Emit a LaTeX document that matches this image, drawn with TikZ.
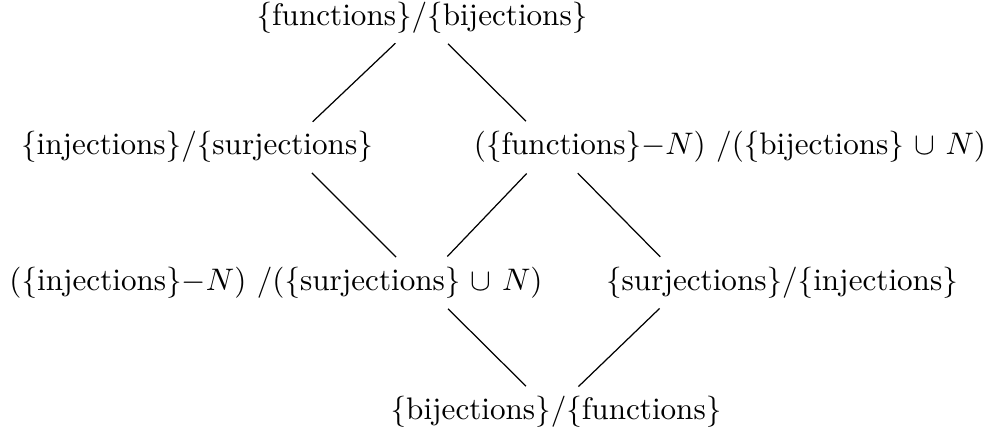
\documentclass[tikz,border=0pt]{standalone}
\begin{document}
\begin{tikzpicture}[x=0.011454cm, y=-0.011454cm, every node/.style={scale=1.015}, hasse/.style={shorten >=0.42cm, shorten <=0.42cm}]
		% 1. 画布范围
		\useasboundingbox (0,0) rectangle (988,441);
		
		% 2. 定义格点坐标
		\coordinate (vtop) at (422,18);
		\coordinate (vinj) at (286,147);
		\coordinate (vfun) at (552,147);
		\coordinate (vinjN) at (422,283);
		\coordinate (vsur) at (686,283);
		\coordinate (vbij) at (552,412);
		
		% 3. 标注文字
		\node (top) at (422,18) {\{functions\}/\{bijections\}};
		\node (inj) at (197,147) {\{injections\}/\{surjections\}};
		\node (fun) at (730,147) {(\{functions\}$-N$) /(\{bijections\} $\cup$ $N$)};
		\node (injN) at (276,283) {(\{injections\}$-N$) /(\{surjections\} $\cup$ $N$)};
		\node (sur) at (782,283) {\{surjections\}/\{injections\}};
		\node (bij) at (556,412) {\{bijections\}/\{functions\}};
		
		% 4. 绘制连线
		\draw[hasse] (vtop) -- (vinj);
		\draw[hasse] (vtop) -- (vfun);
		\draw[hasse] (vinj) -- (vinjN);
		\draw[hasse] (vfun) -- (vinjN);
		\draw[hasse] (vfun) -- (vsur);
		\draw[hasse] (vinjN) -- (vbij);
		\draw[hasse] (vsur) -- (vbij);
	\end{tikzpicture}
\end{document}
